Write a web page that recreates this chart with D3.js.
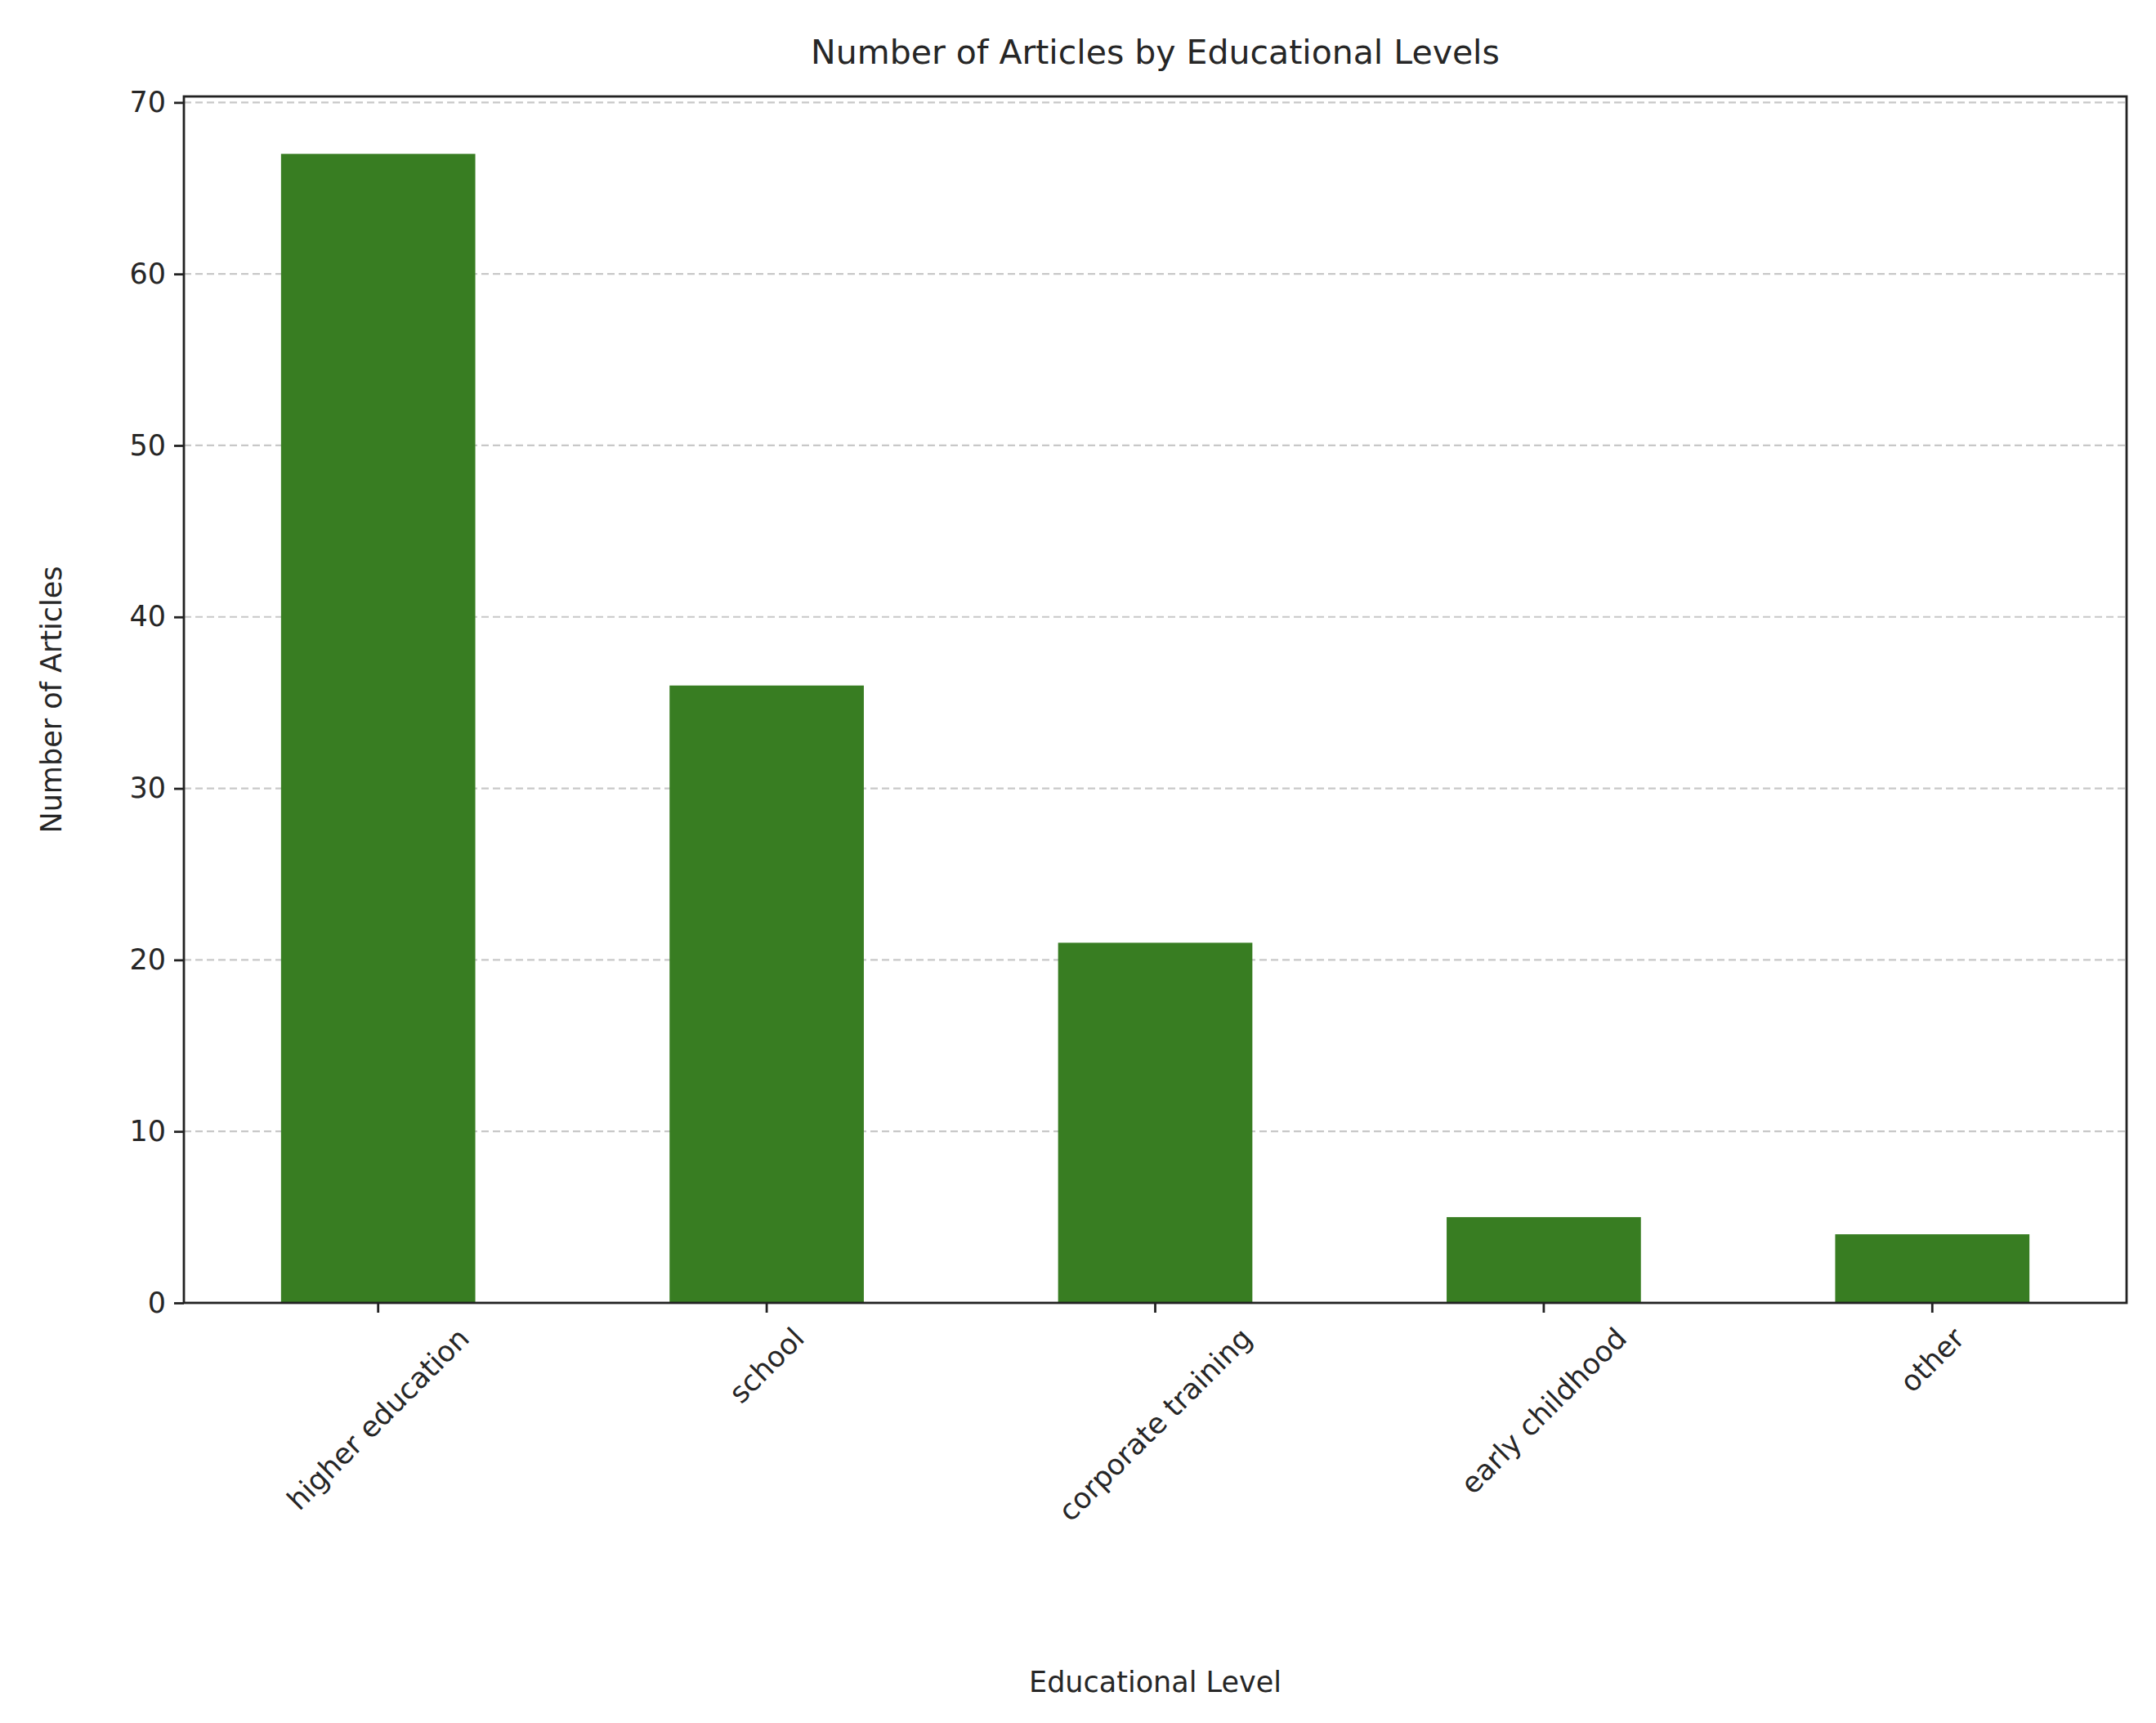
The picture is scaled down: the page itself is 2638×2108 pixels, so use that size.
<!DOCTYPE html>
<html><head><meta charset="utf-8">
<script src="https://cdn.jsdelivr.net/npm/d3@7"></script>
<style>body{margin:0;background:#fff}text{font-family:"DejaVu Sans",sans-serif;fill:#262626}</style>
</head><body>
<svg id="c" width="2638" height="2108"></svg>
<script>
const categories = ["higher education","school","corporate training","early childhood","other"];
const values = [67,36,21,5,4];
const yTicks = [0,10,20,30,40,50,60,70];

const W=2638,H=2108,m={l:225,r:36,t:118,b:514};
const svg=d3.select("#c");
const x=d3.scaleBand().domain(categories).range([m.l,W-m.r]).paddingInner(0.5).paddingOuter(0.25);
const y=d3.scaleLinear().domain([0,70.35]).range([H-m.b,m.t]);

// grid
svg.append("g").selectAll("line").data(yTicks).join("line")
  .attr("x1",m.l).attr("x2",W-m.r).attr("y1",d=>y(d)).attr("y2",d=>y(d))
  .attr("stroke","#b0b0b0").attr("stroke-opacity",0.7).attr("stroke-width",2.2).attr("stroke-dasharray","9,5");

svg.append("g").selectAll("rect").data(values).join("rect")
  .attr("x",(d,i)=>x(categories[i])).attr("width",x.bandwidth())
  .attr("y",d=>y(d)).attr("height",d=>y(0)-y(d)).attr("fill","#387d22");

// frame
svg.append("rect").attr("x",m.l).attr("y",m.t).attr("width",W-m.r-m.l).attr("height",H-m.b-m.t)
  .attr("fill","none").attr("stroke","#222").attr("stroke-width",2.8);

const ya=svg.append("g").attr("transform",`translate(${m.l},0)`)
  .call(d3.axisLeft(y).tickValues(yTicks).tickSize(12).tickPadding(10));
ya.select(".domain").remove();
ya.selectAll("line").attr("stroke","#222").attr("stroke-width",2.8);
ya.selectAll("text").style("font-size","35px").attr("fill","#262626").attr("font-family","DejaVu Sans");

const xa=svg.append("g").attr("transform",`translate(0,${H-m.b})`)
  .call(d3.axisBottom(x).tickSize(12).tickFormat(""));
xa.select(".domain").remove();
xa.selectAll("line").attr("stroke","#222").attr("stroke-width",2.8);

// rotated labels, bbox centered on tick
const y0=H-m.b+12+12;
categories.forEach(c=>{
  const t=svg.append("text").text(c).style("font-size","35px").attr("text-anchor","middle").attr("dominant-baseline","central");
  const L=t.node().getComputedTextLength(), h=35*1.05;
  const half=(L+h)*Math.SQRT1_2/2;
  const cx=x(c)+x.bandwidth()/2, cy=y0+half;
  t.attr("x",cx).attr("y",cy).attr("transform",`rotate(-45,${cx},${cy})`);
});

svg.append("text").attr("x",(m.l+W-m.r)/2).attr("y",78).attr("text-anchor","middle").style("font-size","41px").text("Number of Articles by Educational Levels");
svg.append("text").attr("x",(m.l+W-m.r)/2).attr("y",2070).attr("text-anchor","middle").style("font-size","35px").text("Educational Level");
svg.append("text").attr("transform",`translate(75,${(m.t+H-m.b)/2}) rotate(-90)`).attr("text-anchor","middle").style("font-size","35px").text("Number of Articles");
</script></body></html>
